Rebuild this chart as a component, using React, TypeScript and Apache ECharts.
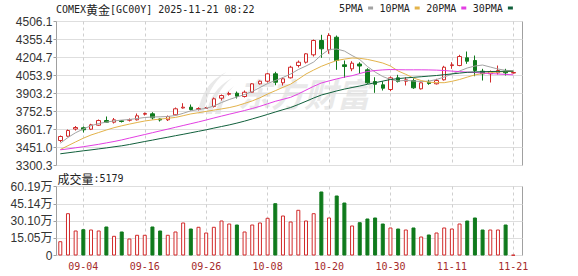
import React, { useEffect, useRef } from 'react';
import * as echarts from 'echarts';

const dates = [
  '09-01','09-02','09-03','09-04','09-05','09-08','09-09','09-10','09-11','09-12',
  '09-15','09-16','09-17','09-18','09-19','09-22','09-23','09-24','09-25','09-26',
  '09-29','09-30','10-01','10-02','10-03','10-06','10-07','10-08','10-09','10-10',
  '10-13','10-14','10-15','10-16','10-17','10-20','10-21','10-22','10-23','10-24',
  '10-27','10-28','10-29','10-30','10-31','11-03','11-04','11-05','11-06','11-07',
  '11-10','11-11','11-12','11-13','11-14','11-17','11-18','11-19','11-20','11-21',
];

const opens = [
  3509.6,3545.6,3605.9,3615.9,3604.2,3637.7,3677.0,3662.8,3674.5,3679.6,
  3682.9,3729.8,3733.1,3689.6,3682.9,3724.8,3781.7,3788.4,3769.1,3777.5,
  3794.2,3863.7,3896.4,3905.6,3878.0,3914.0,3984.3,4006.1,4068.0,3992.7,
  4034.5,4137.5,4165.1,4227.1,4346.8,4268.9,4374.4,4143.4,4109.9,4150.1,
  4101.5,4003.5,3975.9,3936.6,4034.5,4006.1,4011.9,3942.4,3997.7,3984.3,
  4017.8,4137.5,4137.5,4202.0,4179.4,4089.8,4068.0,4076.4,4089.8,4074.7,
];
const closes = [
  3543.1,3593.3,3618.4,3599.2,3641.0,3677.0,3662.8,3682.9,3668.7,3683.7,
  3716.4,3735.6,3699.6,3681.2,3710.5,3775.0,3788.4,3769.1,3777.5,3781.7,
  3858.7,3886.3,3903.1,3880.5,3914.0,3984.3,4006.1,4068.0,3997.7,4026.2,
  4123.3,4165.1,4235.5,4346.8,4277.3,4388.7,4179.4,4129.1,4156.8,4133.3,
  3992.7,3980.9,3947.5,4034.5,4003.5,4017.8,3950.8,3992.7,3986.8,4011.9,
  4123.3,4143.4,4212.8,4173.5,4095.6,4068.0,4087.3,4095.6,4076.4,4078.9,
];
const lows = [
  3495.4,3540.6,3593.3,3576.6,3597.0,3632.7,3660.3,3651.9,3660.3,3668.7,
  3677.0,3718.9,3685.4,3668.7,3672.9,3720.6,3777.5,3760.8,3760.8,3773.3,
  3785.9,3844.5,3886.3,3861.2,3869.6,3911.5,3978.4,3995.2,3972.6,3970.1,
  4028.7,4120.8,4154.2,4212.8,4202.0,4235.5,4101.5,4034.5,4089.8,4068.0,
  3984.3,3908.9,3928.2,3922.3,3995.2,3970.1,3942.4,3936.6,3975.9,3978.4,
  4011.9,4109.9,4131.6,4151.7,4047.9,4011.9,3995.2,4062.2,4053.8,4070.3,
];
const highs = [
  3551.5,3601.7,3631.0,3626.8,3649.4,3685.4,3710.5,3698.0,3681.2,3693.8,
  3735.6,3744.0,3746.5,3693.8,3718.9,3785.9,3821.9,3811.0,3788.4,3790.1,
  3869.6,3894.7,3917.3,3919.8,3928.2,3989.3,4011.9,4076.4,4084.8,4037.0,
  4135.0,4179.4,4240.5,4355.2,4394.5,4407.9,4388.7,4179.4,4173.5,4165.1,
  4114.9,4039.5,4006.1,4045.4,4059.6,4039.5,4031.2,3995.2,4017.8,4026.2,
  4135.0,4165.1,4227.1,4254.7,4221.2,4109.9,4095.6,4137.5,4109.9,4084.8,
];
const volumes = [
  124700,369000,218100,229400,226800,218100,253000,171800,209400,148300,
  180600,180600,253000,218100,180600,209400,287900,235500,250400,200600,
  250400,305300,279100,270400,209400,270400,287900,328900,456200,348900,
  296600,398600,305300,369000,558300,331500,523400,462300,261700,290500,
  322800,331500,279100,244300,235500,226800,244300,165700,183200,200600,
  244300,235500,279100,305300,331500,226800,226800,226800,270400,5179,
];
const ma5 = [
  3487.0,3534.7,3574.9,3605.9,3633.5,3651.9,3663.6,3673.7,3680.4,3685.4,
  3693.8,3702.2,3706.3,3708.0,3710.5,3718.9,3737.3,3758.2,3769.1,3779.2,
  3798.4,3827.7,3852.9,3873.8,3894.7,3919.8,3953.3,3986.8,4011.9,4037.0,
  4066.3,4104.0,4133.3,4166.8,4225.4,4271.5,4275.6,4258.9,4221.2,4187.7,
  4129.1,4083.1,4045.4,4020.3,4007.7,4013.6,4007.7,4003.5,4006.9,4020.3,
  4041.2,4066.3,4091.5,4116.6,4133.3,4141.7,4124.9,4108.2,4097.3,4093.1,
];
const ma10 = [
  3434.3,3466.1,3497.9,3528.9,3555.6,3576.6,3597.5,3616.8,3632.7,3646.9,
  3660.3,3672.9,3682.1,3688.8,3695.5,3703.0,3717.2,3732.3,3742.3,3753.2,
  3764.1,3774.2,3785.0,3800.1,3820.2,3841.1,3867.1,3898.9,3926.5,3955.0,
  3981.8,4022.8,4066.3,4099.8,4130.8,4155.9,4179.4,4191.1,4200.3,4197.8,
  4188.6,4174.3,4158.4,4133.3,4091.5,4063.8,4032.9,4011.9,3997.7,3994.3,
  3993.5,4005.2,4020.3,4040.4,4058.8,4070.5,4078.1,4083.1,4087.3,4088.9,
];
const ma20 = [
  3431.7,3439.3,3448.5,3457.7,3467.7,3477.8,3489.5,3501.2,3514.6,3529.7,
  3544.8,3559.8,3574.9,3590.0,3605.0,3620.1,3635.2,3650.2,3665.3,3681.2,
  3698.0,3713.9,3729.8,3744.9,3760.8,3777.5,3795.9,3816.9,3837.8,3854.5,
  3871.3,3899.7,3931.6,3963.4,3991.0,4008.6,4025.3,4040.4,4052.1,4070.5,
  4087.3,4095.6,4100.7,4104.0,4102.3,4101.5,4101.5,4101.5,4100.7,4099.0,
  4095.6,4090.6,4086.4,4082.2,4078.9,4074.7,4070.5,4066.3,4063.0,4059.6,
];
const ma30 = [
  3398.3,3406.6,3415.0,3423.4,3430.9,3439.3,3447.6,3456.9,3465.2,3476.1,
  3488.7,3501.2,3512.9,3525.5,3537.2,3549.8,3561.5,3574.1,3586.6,3599.2,
  3613.4,3626.8,3640.2,3655.3,3672.0,3690.4,3708.9,3728.1,3748.2,3767.5,
  3785.9,3811.0,3837.8,3865.4,3890.5,3907.3,3924.9,3939.9,3953.3,3965.9,
  3980.1,3993.5,4006.9,4020.3,4027.8,4033.7,4038.7,4043.7,4048.8,4053.8,
  4060.5,4067.2,4073.9,4080.6,4083.7,4085.6,4087.3,4088.1,4089.0,4089.8,
];

const priceTicks = ['3300.3','3451.0','3601.7','3752.5','3903.2','4053.9','4204.7','4355.4','4506.1'];
const volumeTicks = ['0','15.05万','30.10万','45.14万','60.19万'];
const priceMin = 3300.3;
const priceMax = 4506.1;
const volumeMax = 601900;
const lastVolume = '5179';

const UP = '#d12a2a';
const DOWN = '#0f7a1c';

echarts.graphic.registerShape(
  'emLogo',
  echarts.graphic.extendPath(
    'M4 42 Q8 12 34 0 Q14 14 10 42 Z M13 42 Q17 18 40 6 Q22 20 19 42 Z M22 42 Q26 25 42 14 Q29 27 28 42 Z',
    {}
  )
);

const labelInterval = (index: number) => index % 8 === 3;

function buildOption(): any {
  const candleData = dates.map((_, i) => [opens[i], closes[i], lows[i], highs[i]]);
  const volData = volumes.map((v, i) => {
    const up = closes[i] >= opens[i];
    return {
      value: v,
      itemStyle: {
        color: up ? '#ffffff' : DOWN,
        borderColor: up ? UP : DOWN,
        borderWidth: 1,
      },
    };
  });
  const splitDash = {
    show: true,
    interval: labelInterval,
    lineStyle: { color: '#cfcfcf', type: [3, 3], width: 1 },
  };
  const frameYAxisCommon = {
    type: 'value',
    interval: 1,
    axisLine: { show: false },
    axisTick: { show: true, length: 3, lineStyle: { color: '#a0a0a0' } },
    splitLine: { show: true, lineStyle: { color: '#dedede', width: 1 } },
  };
  const maLine = (name: string, data: number[], color: string) => ({
    name,
    type: 'line',
    xAxisIndex: 1,
    yAxisIndex: 1,
    data,
    showSymbol: false,
    symbol: 'none',
    lineStyle: { width: 1, color },
    itemStyle: { color },
    z: 3,
  });
  return {
    animation: false,
    backgroundColor: '#ffffff',
    title: {
      text: 'COMEX{c|黄金}[GC00Y] 2025-11-21 08:22',
      left: 56,
      top: 3,
      padding: 0,
      textStyle: {
        fontFamily: 'DejaVu Sans Mono',
        fontSize: 10,
        fontWeight: 'normal',
        color: '#222',
        rich: { c: { fontFamily: 'Noto Sans CJK SC', fontSize: 12, color: '#222' } },
      },
    },
    legend: {
      data: ['5PMA', '10PMA', '20PMA', '30PMA'],
      left: 339,
      top: 3,
      padding: 0,
      icon: 'rect',
      itemWidth: 5,
      itemHeight: 3,
      itemGap: 6.5,
      align: 'right',
      selectedMode: false,
      textStyle: { fontFamily: 'DejaVu Sans Mono', fontSize: 10, color: '#222' },
    },
    graphic: [
      {
        type: 'emLogo',
        x: 194,
        y: 72,
        scaleX: 0.95,
        scaleY: 1.0,
        silent: true,
        z: 0,
        style: { fill: '#e9e9e9' },
      },
      {
        type: 'text',
        x: 238,
        y: 93,
        silent: true,
        z: 0,
        style: {
          text: '东方财富',
          fontFamily: 'Noto Sans CJK SC',
          fontSize: 33,
          fontWeight: 'bold',
          fontStyle: 'italic',
          fill: '#e9e9e9',
          verticalAlign: 'middle',
        },
      },
      {
        type: 'text',
        x: 57.5,
        y: 178,
        style: {
          text: '{c|成交量}:' + lastVolume,
          fontFamily: 'DejaVu Sans Mono',
          fontSize: 10,
          fill: '#222',
          verticalAlign: 'middle',
          rich: { c: { fontFamily: 'Noto Sans CJK SC', fontSize: 12, fill: '#222' } },
        },
      },
    ],
    grid: [
      { left: 56.5, top: 21.5, width: 466, height: 144, show: true, borderColor: '#a0a0a0', borderWidth: 1, backgroundColor: 'transparent' },
      { left: 60.3, top: 21.5, width: 453, height: 144 },
      { left: 56.5, top: 186.5, width: 466, height: 69, show: true, borderColor: '#a0a0a0', borderWidth: 1, backgroundColor: 'transparent' },
      { left: 60.3, top: 186.5, width: 453, height: 69 },
    ],
    xAxis: [
      { gridIndex: 0, type: 'value', show: false, min: 0, max: 1 },
      {
        gridIndex: 1,
        type: 'category',
        data: dates,
        boundaryGap: false,
        axisLine: { show: false },
        axisTick: { show: false },
        axisLabel: { show: false },
        splitLine: splitDash,
      },
      { gridIndex: 2, type: 'value', show: false, min: 0, max: 1 },
      {
        gridIndex: 3,
        type: 'category',
        data: dates,
        boundaryGap: false,
        axisLine: { show: false },
        axisTick: { show: false },
        axisLabel: {
          show: true,
          interval: labelInterval,
          margin: 6,
          color: '#a52a2a',
          fontFamily: 'DejaVu Sans Mono',
          fontSize: 10,
        },
        splitLine: splitDash,
      },
    ],
    yAxis: [
      {
        ...frameYAxisCommon,
        gridIndex: 0,
        min: 0,
        max: priceTicks.length - 1,
        axisLabel: {
          margin: 4,
          color: '#333',
          fontFamily: 'Liberation Sans',
          fontSize: 12,
          formatter: (v: number) => priceTicks[Math.round(v)],
        },
      },
      { gridIndex: 1, type: 'value', min: priceMin, max: priceMax, show: false, splitLine: { show: false } },
      {
        ...frameYAxisCommon,
        gridIndex: 2,
        min: 0,
        max: volumeTicks.length - 1,
        axisLabel: {
          margin: 4,
          color: '#333',
          fontFamily: 'Liberation Sans, Noto Sans CJK SC',
          fontSize: 12,
          formatter: (v: number) => volumeTicks[Math.round(v)],
        },
      },
      { gridIndex: 3, type: 'value', min: 0, max: volumeMax, show: false, splitLine: { show: false } },
    ],
    series: [
      {
        name: 'K',
        type: 'candlestick',
        xAxisIndex: 1,
        yAxisIndex: 1,
        data: candleData,
        barWidth: 4,
        clip: false,
        itemStyle: {
          color: '#ffffff',
          color0: DOWN,
          borderColor: UP,
          borderColor0: DOWN,
          borderWidth: 1,
        },
        z: 2,
      },
      maLine('5PMA', ma5, '#a3a3a3'),
      maLine('10PMA', ma10, '#e3b34a'),
      maLine('20PMA', ma20, '#e33fe3'),
      maLine('30PMA', ma30, '#11603c'),
      {
        name: 'VOL',
        type: 'bar',
        xAxisIndex: 3,
        yAxisIndex: 3,
        data: volData,
        barWidth: 4,
        clip: false,
      },
    ],
  };
}

export default function App() {
  const ref = useRef<HTMLDivElement>(null);
  useEffect(() => {
    if (!ref.current) return;
    const chart = echarts.init(ref.current, null, { renderer: 'svg' });
    chart.setOption(buildOption());
    return () => {
      chart.dispose();
    };
  }, []);
  return (
    <div
      ref={ref}
      style={{ position: 'fixed', left: 0, top: 0, width: 578, height: 276, background: '#ffffff' }}
    />
  );
}
